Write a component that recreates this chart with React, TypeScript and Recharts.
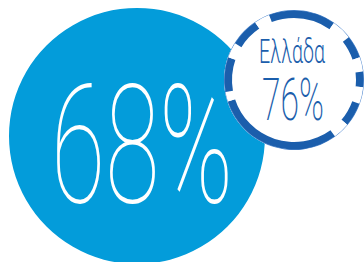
import React from 'react';
import { PieChart, Pie, Cell, Label } from 'recharts';

// Data
const labels = ['Σύνολο', 'Ελλάδα'];
const values = [68, 76];
// Greek-flag style stripe ring, degrees clockwise from top, alternating dark / white
const stripeArcs = [35, 17, 19, 12, 13, 14, 20, 14, 108, 8, 29, 13, 24, 13, 21];

const BIG = '#039cda';
const DARK = '#1b5eac';
const OUTLINE = '#5a8fd2';
const FONT = 'Roboto, "Noto Sans", sans-serif';

const Condensed = ({ x, y, width, scale, size, weight, color, children }: any) => (
  <text
    transform={`translate(${x},${y}) scale(${scale},1)`}
    x={0}
    y={0}
    textAnchor="middle"
    fill={color}
    fontFamily={FONT}
    fontWeight={weight}
    fontSize={size}
    textLength={width / scale}
    lengthAdjust="spacingAndGlyphs"
  >
    {children}
  </text>
);

const BigLabel = (props: any) => {
  const vb = props.viewBox || {};
  const cx = vb.cx ?? 137;
  const cy = vb.cy ?? 136;
  return (
    <Condensed x={cx + 5} y={cy + 66} width={182} scale={0.6} size={166} weight={100} color="#ffffff">
      {`${values[0]}%`}
    </Condensed>
  );
};

const SmallLabel = (props: any) => {
  const vb = props.viewBox || {};
  const cx = vb.cx ?? 294;
  const cy = vb.cy ?? 80;
  return (
    <g>
      <Condensed x={cx - 2} y={cy - 17} width={66} scale={0.6} size={34} weight={300} color={DARK}>
        {labels[1]}
      </Condensed>
      <Condensed x={cx - 1} y={cy + 40} width={62} scale={0.56} size={60} weight={200} color={DARK}>
        {`${values[1]}%`}
      </Condensed>
    </g>
  );
};

export default function App() {
  const bigData = [{ name: labels[0], value: values[0] }];
  const smallData = [{ name: labels[1], value: values[1] }];
  const stripes = stripeArcs.map((v, i) => ({ name: `s${i}`, value: v }));
  return (
    <div style={{ position: 'absolute', left: 0, top: 0, width: 364, height: 262, overflow: 'hidden' }}>
      <PieChart width={364} height={262} margin={{ top: 0, right: 0, bottom: 0, left: 0 }}>
        <Pie
          data={bigData}
          dataKey="value"
          cx={137}
          cy={136}
          innerRadius={0}
          outerRadius={128}
          startAngle={90}
          endAngle={-270}
          fill={BIG}
          stroke="none"
          isAnimationActive={false}
        >
          <Cell fill={BIG} stroke="none" />
          <Label position="center" content={BigLabel} />
        </Pie>
        <Pie
          data={smallData}
          dataKey="value"
          cx={294}
          cy={80}
          innerRadius={0}
          outerRadius={70}
          startAngle={90}
          endAngle={-270}
          fill="#ffffff"
          stroke="none"
          isAnimationActive={false}
        >
          <Cell fill="#ffffff" stroke="none" />
        </Pie>
        <Pie
          data={smallData}
          dataKey="value"
          cx={294}
          cy={80}
          innerRadius={69}
          outerRadius={70}
          startAngle={90}
          endAngle={-270}
          fill={OUTLINE}
          stroke="none"
          isAnimationActive={false}
        >
          <Cell fill={OUTLINE} stroke="none" />
        </Pie>
        <Pie
          data={stripes}
          dataKey="value"
          cx={294}
          cy={80}
          innerRadius={62}
          outerRadius={69.5}
          startAngle={90}
          endAngle={-270}
          stroke="none"
          isAnimationActive={false}
        >
          {stripes.map((s, i) => (
            <Cell key={s.name} fill={i % 2 === 0 ? DARK : '#ffffff'} stroke="none" />
          ))}
          <Label position="center" content={SmallLabel} />
        </Pie>
      </PieChart>
    </div>
  );
}
